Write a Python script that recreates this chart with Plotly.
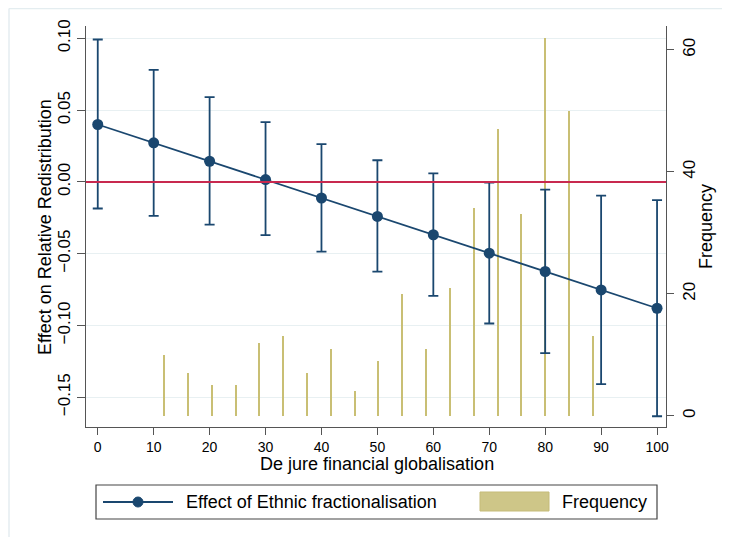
import plotly.graph_objects as go

# marginal effect of ethnic fractionalisation with 95% CI
glob_x = [0, 10, 20, 30, 40, 50, 60, 70, 80, 90, 100]
effect = [0.040, 0.0272, 0.0144, 0.0016, -0.0112, -0.024, -0.0368, -0.0496, -0.0624, -0.0752, -0.088]
ci_upper = [0.0992, 0.078, 0.059, 0.0416, 0.0263, 0.0151, 0.0060, -0.0004, -0.0053, -0.0095, -0.0127]
ci_lower = [-0.0185, -0.0236, -0.0298, -0.0371, -0.0485, -0.0625, -0.0794, -0.0986, -0.1193, -0.1409, -0.1632]

# histogram of de jure financial globalisation
bin_mid = [11.85, 16.11, 20.37, 24.63, 28.89, 33.15, 37.41, 41.67, 45.93, 50.19,
           54.45, 58.71, 62.97, 67.23, 71.49, 75.75, 80.01, 84.27, 88.53]
freq = [10, 7, 5, 5, 12, 13, 7, 11, 4, 9, 20, 11, 21, 34, 47, 33, 62, 50, 13]

left_ticks = [0.10, 0.05, 0.00, -0.05, -0.10, -0.15]
right_ticks = [0, 20, 40, 60]
x_ticks = [0, 10, 20, 30, 40, 50, 60, 70, 80, 90, 100]

NAVY = '#1a476f'
KHAKI = '#c9bf74'
RED = '#c8294f'
GRID = '#e8f0f2'
AXIS = '#555555'
FONT = 'Liberation Sans, Arial, sans-serif'

# the page body adds an 8px offset, so the figure is 8px smaller
# and all screen positions below are shifted back by OFF
OFF = 8
W, H = 730 - OFF, 537 - OFF
L, R, T, B = 86, 666, 26, 427   # plot area in screen pixels


def px(x):
    return (x - L) / (R - L)


def py(y):
    return (B - y) / (B - T)


fig = go.Figure()

fig.add_trace(go.Bar(
    x=bin_mid, y=freq, width=0.36,
    marker=dict(color=KHAKI, line=dict(width=0)),
    yaxis='y', showlegend=False,
))

fig.add_trace(go.Scatter(
    x=glob_x, y=effect, yaxis='y2',
    mode='lines+markers',
    line=dict(color=NAVY, width=1.8),
    marker=dict(color=NAVY, size=11),
    error_y=dict(
        type='data', symmetric=False,
        array=[u - e for u, e in zip(ci_upper, effect)],
        arrayminus=[e - l for e, l in zip(effect, ci_lower)],
        color=NAVY, thickness=1.8, width=5,
    ),
    showlegend=False,
))

shapes = [
    # outer graph region border (only top and left edges are in view)
    dict(type='line', xref='paper', yref='paper',
         x0=px(9), x1=px(730), y0=py(8.5), y1=py(8.5),
         line=dict(color='#e4edf0', width=1.5), layer='below'),
    dict(type='line', xref='paper', yref='paper',
         x0=px(9), x1=px(9), y0=py(8.5), y1=py(537),
         line=dict(color='#e4edf0', width=1.5), layer='below'),
    # zero reference line
    dict(type='line', xref='paper', yref='y2', x0=0, x1=1, y0=0, y1=0,
         line=dict(color=RED, width=2), layer='above'),
    # legend box
    dict(type='rect', xref='paper', yref='paper',
         x0=px(96), x1=px(657), y0=py(519), y1=py(485),
         line=dict(color='#444444', width=1.2), fillcolor='white'),
    dict(type='line', xref='paper', yref='paper',
         x0=px(103), x1=px(173), y0=py(502), y1=py(502),
         line=dict(color=NAVY, width=1.8)),
    dict(type='circle', xref='paper', yref='paper',
         x0=px(133), x1=px(143), y0=py(507), y1=py(497),
         line=dict(color=NAVY, width=1), fillcolor=NAVY),
    dict(type='rect', xref='paper', yref='paper',
         x0=px(480), x1=px(549), y0=py(511), y1=py(492),
         line=dict(color='#c5bb78', width=1), fillcolor='#cec688'),
]


def label(text, x, y, size=18, angle=0, anchor='left'):
    return dict(text=text, xref='paper', yref='paper', x=px(x), y=py(y),
                xanchor=anchor, yanchor='middle', showarrow=False, textangle=angle,
                font=dict(size=size, color='black', family=FONT))


annotations = [
    label('Effect of Ethnic fractionalisation', 184, 502),
    label('Frequency', 560, 502),
    label('De jure financial globalisation', 377, 464, anchor='center'),
    label('Effect on Relative Redistribution', 45, 227, angle=-90, anchor='center'),
    label('Frequency', 706, 227, angle=-90, anchor='center'),
]

fig.update_layout(
    width=W, height=H,
    margin=dict(l=L - OFF, r=730 - R, t=T - OFF, b=537 - B, pad=0),
    paper_bgcolor='white', plot_bgcolor='white',
    font=dict(family=FONT, color='black', size=16),
    bargap=0,
    showlegend=False,
    shapes=shapes,
    annotations=annotations,
    xaxis=dict(
        range=[-2.1, 101.6], tickvals=x_ticks,
        showgrid=False, zeroline=False,
        showline=True, linecolor=AXIS, linewidth=1.2,
        ticks='outside', ticklen=7, tickcolor=AXIS,
        tickfont=dict(size=14),
    ),
    yaxis=dict(
        side='right', range=[-1.85, 63.9], tickvals=right_ticks,
        showgrid=False, zeroline=False,
        showline=True, linecolor=AXIS, linewidth=1.2,
        ticks='outside', ticklen=7, tickcolor=AXIS,
        tickangle=-90, tickfont=dict(size=17),
    ),
    yaxis2=dict(
        side='left', overlaying='y', range=[-0.1707, 0.1086],
        tickvals=left_ticks, tickformat='.2f',
        showgrid=True, gridcolor=GRID, gridwidth=1.3, zeroline=False,
        showline=True, linecolor=AXIS, linewidth=1.2,
        ticks='outside', ticklen=8, tickcolor=AXIS,
        tickangle=-90, tickfont=dict(size=17),
    ),
)

fig.write_html('out.html')
